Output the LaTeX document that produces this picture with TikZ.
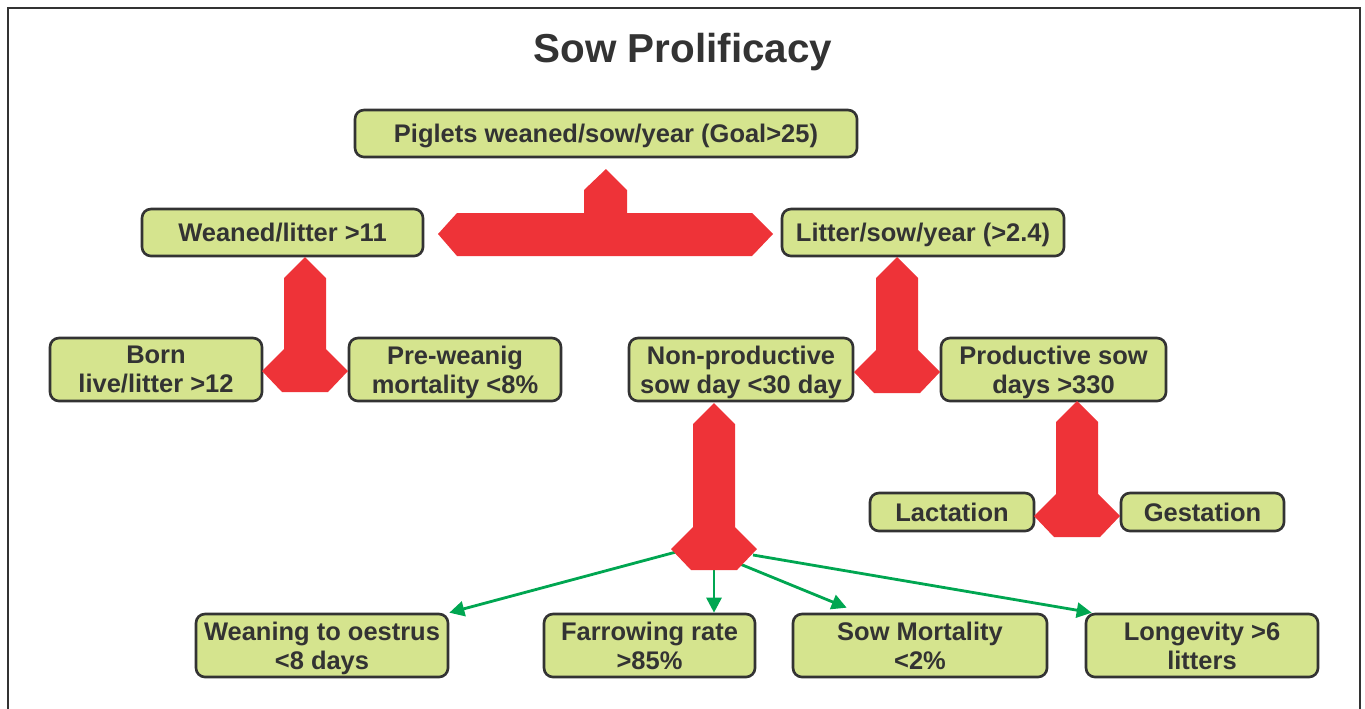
\documentclass[tikz,border=0pt]{standalone}
\usepackage{fontspec}
\setmainfont{Liberation Sans}
\usetikzlibrary{arrows.meta,calc}

\definecolor{boxgreen}{RGB}{213,228,142}
\definecolor{forkred}{RGB}{238,51,56}
\definecolor{arrgreen}{RGB}{0,166,81}
\definecolor{inkgray}{RGB}{51,51,51}

\tikzset{
  box/.style={draw=inkgray, line width=1.5pt, fill=boxgreen, rounded corners=0.18cm,
    text=inkgray, font=\fontsize{14.5}{16.5}\selectfont\bfseries, align=center,
    inner sep=0pt, text depth=0pt},
  size/.style 2 args={minimum width=#1*0.02cm, minimum height=#2*0.02cm},
  arr/.style={arrgreen, line width=1.6pt, -{Triangle[length=0.3cm,width=0.3cm]}},
  pics/fork/.style={code={
    \fill[forkred] (0,0) -- (21,21) -- (21,{21+#1}) -- (43,{43+#1}) -- (23,{64+#1})
      -- (-23,{64+#1}) -- (-43,{43+#1}) -- (-21,{21+#1}) -- (-21,21) -- cycle;}}
}

\begin{document}
\begin{tikzpicture}[x=0.02cm,y=-0.02cm]
  \useasboundingbox (0,0) rectangle (1365,708);
  % cadrul
  \draw[inkgray, line width=1.2pt] (8,730) -- (8,8) -- (1360,8) -- (1360,730);
  \node[font=\fontsize{23}{28}\selectfont\bfseries, text=inkgray] (title) at (683,52) {Sow Prolificacy};

  % casetele
  \node[box, size={502}{47}] (top) at (606,133.5) {Piglets weaned/sow/year (Goal>25)};
  \node[box, size={281}{47}] (wl) at (282.5,232.5) {Weaned/litter >11};
  \node[box, size={282}{47}] (lsy) at (923,232.5) {Litter/sow/year (>2.4)};
  \node[box, size={212}{63}] (born) at (156,369.5) {Born\\live/litter >12};
  \node[box, size={212}{63}] (pwm) at (455,369.5) {Pre-weanig\\mortality <8\%};
  \node[box, size={224}{63}] (npd) at (741,369.5) {Non-productive\\sow day <30 day};
  \node[box, size={225}{63}] (psd) at (1053.5,369.5) {Productive sow\\days >330};
  \node[box, size={164}{38}] (lac) at (952,512) {Lactation};
  \node[box, size={163}{38}] (ges) at (1202.5,512) {Gestation};
  \node[box, size={252}{63}] (wto) at (322,645.5) {Weaning to oestrus\\<8 days};
  \node[box, size={211}{63}] (far) at (649.5,645.5) {Farrowing rate\\>85\%};
  \node[box, size={254}{63}] (mor) at (920,645.5) {Sow Mortality\\<2\%};
  \node[box, size={232}{63}] (lon) at (1202,645.5) {Longevity >6\\litters};

  % sagetile verzi
  \coordinate (g1) at (676,552);
  \coordinate (g2) at (714,560);
  \coordinate (g3) at (740,564);
  \coordinate (g4) at (753,555);
  \draw[arr] (g1) -- (wto.north east);
  \draw[arr] (g2) -- (g2 |- far.north);
  \draw[arr] (g3) -- ($(mor.north west)+(55,-5)$);
  \draw[arr] (g4) -- ($(lon.north west)+(7,0)$);

  % bratul in T
  \fill[forkred] (606,169) -- (627,190) -- (627,213) -- (752,213) -- (773,234) -- (752,256)
    -- (457,256) -- (438,234) -- (457,213) -- (584,213) -- (584,190) -- cycle;
  % sagetile rosii
  \pic at (305,257) {fork=71};
  \pic at (897,257) {fork=72};
  \pic at (714,403) {fork=103};
  \pic at (1077,401) {fork=72};
\end{tikzpicture}
\end{document}
